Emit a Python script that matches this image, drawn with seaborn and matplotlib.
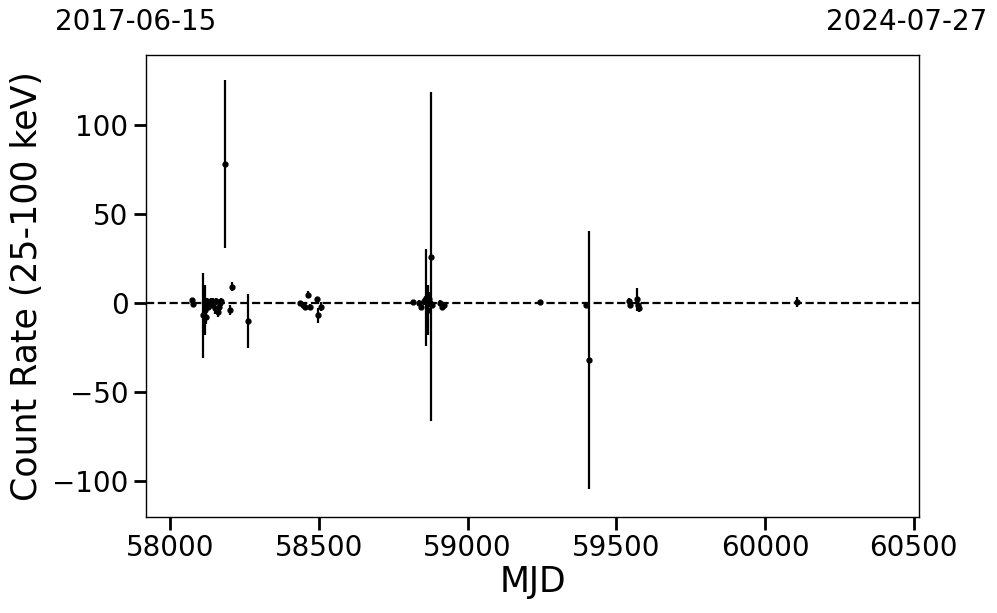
import numpy as np
import pandas as pd
import matplotlib
matplotlib.use("Agg")
import matplotlib.pyplot as plt
import seaborn as sns

# light curve points (MJD, rate, error)
mjd = [58074, 58076, 58112, 58116, 58121, 58118, 58124, 58128, 58132, 58138,
       58142, 58146, 58150, 58156, 58161, 58164, 58168, 58172, 58185, 58200,
       58208, 58262,
       58437, 58447, 58452, 58464, 58470, 58494, 58498, 58506,
       58817, 58838, 58845, 58855, 58861, 58866, 58872, 58878, 58882, 58908,
       58914, 58922,
       59245, 59399, 59409,
       59543, 59546, 59571, 59574, 59576,
       60109]
rate = [1.5, -0.5, -7, -4, -8, -1, 1, -2, 0, 1,
        -1, 0.5, -3, 1, -5, -2, 0, 1, 78, -4,
        9, -10,
        0, -1, -2, 4.5, -2, 2, -7, -2,
        0.5, 0, -2, 1, 3, -4, 2, 26, -1, 0,
        -2, -1,
        0.5, -1, -32,
        1, -1, 2, -1, -3,
        0.5]
rate_err = [1.5, 1.5, 24, 14, 4, 3, 2, 2, 2, 2,
            2, 2, 3, 2, 3, 2, 2, 2, 47, 3,
            2.5, 15,
            1, 1, 1.5, 2, 1.5, 1.5, 4, 2.5,
            1, 1.5, 2, 2, 27, 14, 4, 92, 2, 1.5,
            1.5, 1.5,
            1, 1, 72.5,
            1.5, 1.5, 6.5, 2, 2,
            3]

df = pd.DataFrame({"mjd": mjd, "rate": rate, "err": rate_err})

sns.set_theme(style="white")
plt.rcParams['font.family'] = ['DejaVu Sans']
plt.rcParams['text.color'] = 'black'

fig = plt.figure(figsize=(9.97, 6.13), dpi=100)
ax = fig.add_axes([0.1464, 0.1566, 0.7754, 0.7537])

ax.errorbar(df["mjd"], df["rate"], yerr=df["err"], fmt="o", color="black",
            ms=3.5, elinewidth=1.6, capsize=0, zorder=3)
ax.axhline(0, color="black", ls="--", lw=1.6, zorder=2)

ax.set_xlim(57919, 60518)
ax.set_ylim(-120, 139)
ax.set_xticks([58000, 58500, 59000, 59500, 60000, 60500])
ax.set_yticks([-100, -50, 0, 50, 100])

for s in ax.spines.values():
    s.set_color("black")
    s.set_linewidth(1.0)
ax.tick_params(axis="both", which="major", labelsize=20, length=9,
               width=2, color="black", direction="out",
               bottom=True, left=True, labelcolor="black")

ax.set_xlabel("MJD", fontsize=25, color="black", labelpad=2)
ax.set_ylabel("Count Rate (25-100 keV)", fontsize=25, color="black", labelpad=6)

fig.text(136 / 997, 1 - 22 / 613, "2017-06-15", fontsize=20, ha="center", va="center", color="black")
fig.text(907 / 997, 1 - 22 / 613, "2024-07-27", fontsize=20, ha="center", va="center", color="black")

fig.savefig("out.png", dpi=100)
